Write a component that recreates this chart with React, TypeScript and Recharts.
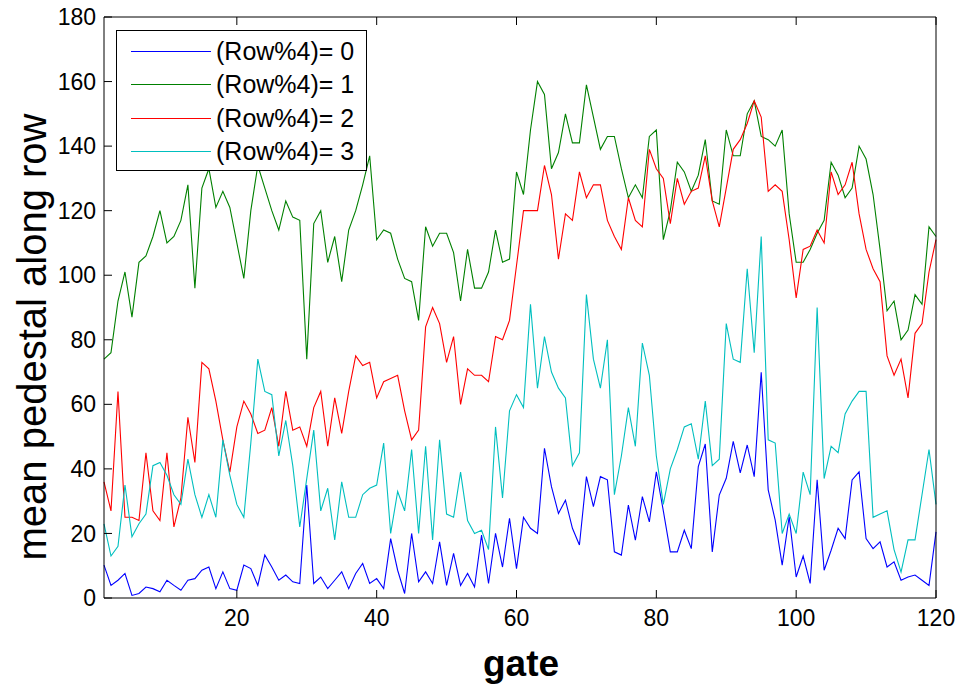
import { LineChart, Line, XAxis, YAxis, Legend } from "recharts";

// gate index 1..120
const gates = Array.from({ length: 120 }, (_, i) => i + 1);

const row0 = [
  10.2, 3.9, 5.5, 7.6, 0.8, 1.4, 3.4, 2.9, 1.9, 5.5, 3.9, 2.4, 5.5, 6, 8.6, 9.6, 2.9, 8.1, 2.9, 2.4,
  10.2, 9.1, 3.9, 13.3, 9.6, 5.5, 7.1, 5, 4.5, 35, 4.5, 6.5, 2.9, 5.5, 8.1, 2.9, 7.6, 10.7, 4.5, 6,
  2.9, 18.4, 8.6, 1.4, 20, 5, 8.1, 4.5, 17.4, 3.9, 13.8, 3.9, 7.6, 3.4, 19.5, 4.5, 20, 9.6, 24.7, 9.1,
  25, 21.6, 20, 46.4, 34.5, 26.2, 30.3, 21.6, 16.4, 37.6, 28.3, 37.6, 36.6, 14.3, 13.3, 28.8, 17.9, 31.4, 23.6, 39.1,
  27, 14.3, 14.3, 21, 15.3, 40.7, 47.7, 14.3, 31.9, 37.1, 48.5, 38.8, 47.4, 37.6, 69.9, 33.5, 24.1, 10.2, 25.2, 6.5,
  13, 4.5, 36.6, 8.6, 14.8, 21.6, 18.4, 36.6, 39.1, 18.4, 15.3, 17.4, 9.6, 11.2, 5.5, 6.5, 7.1, 5.5, 3.9, 20.5,
];

const row1 = [
  74, 76, 92, 101, 87, 104, 106, 112, 120, 110, 112, 117, 128, 96, 127, 133, 121, 126, 121, 110,
  99, 120, 134, 127, 120, 114, 123, 118, 117, 74, 116, 120, 104, 112, 98, 114, 120, 128, 137, 111,
  114, 113, 105, 99, 98, 86, 115, 109, 113, 113, 107, 92, 108, 96, 96, 101, 114, 104, 105, 132,
  125, 145, 160, 156, 133, 138, 150, 141, 141, 159, 149, 139, 143, 143, 133, 124, 128, 124, 143, 145,
  111, 120, 135, 132, 126, 131, 142, 123, 122, 145, 137, 137, 150, 154, 143, 142, 140, 145, 119, 104,
  104, 108, 113, 117, 135, 131, 124, 127, 140, 136, 125, 108, 89, 92, 80, 83, 94, 91, 115, 112,
];

const row2 = [
  36, 27, 64, 25, 25, 24, 45, 27, 24, 45, 22, 31, 56, 42, 73, 71, 61, 49, 39, 53,
  61, 57, 51, 52, 59, 47, 64, 52, 53, 47, 59, 64, 47, 62, 51, 64, 75, 72, 73, 62,
  67, 68, 69, 58, 49, 52, 84, 90, 85, 73, 81, 60, 71, 69, 69, 67, 81, 80, 86, 103,
  120, 120, 120, 134, 125, 105, 119, 117, 132, 124, 128, 128, 117, 112, 108, 124, 117, 115, 139, 133,
  130, 116, 130, 122, 126, 127, 137, 123, 115, 127, 139, 142, 147, 154, 149, 126, 128, 126, 111, 93,
  108, 109, 114, 110, 132, 125, 128, 135, 119, 108, 102, 98, 75, 69, 74, 62, 82, 85, 101, 111,
];

const row3 = [
  23, 13, 16, 35, 19, 23, 26, 41, 42, 38, 32, 29, 43, 32, 25, 32, 25, 49, 38, 29,
  25, 48, 74, 64, 63, 44, 55, 41, 22, 37, 52, 27, 34, 18, 36, 25, 25, 32, 34, 35,
  48, 20, 33, 27, 46, 20, 47, 18, 49, 26, 25, 39, 24, 20, 21, 15, 53, 31, 58, 63,
  59, 91, 65, 81, 70, 65, 62, 41, 45, 94, 74, 65, 80, 32, 44, 59, 47, 79, 69, 44,
  29, 40, 46, 53, 54, 43, 61, 41, 43, 85, 74, 73, 102, 76, 112, 49, 48, 20, 26, 20,
  39, 32, 90, 37, 47, 45, 57, 61, 64, 64, 25, 26, 27, 15, 8, 18, 18, 32, 46, 29,
];

const xTicks = [20, 40, 60, 80, 100, 120];
const yTicks = [0, 20, 40, 60, 80, 100, 120, 140, 160, 180];

const series = [
  { key: "r0", name: "(Row%4)= 0", color: "#0000ff" },
  { key: "r1", name: "(Row%4)= 1", color: "#008000" },
  { key: "r2", name: "(Row%4)= 2", color: "#ff0000" },
  { key: "r3", name: "(Row%4)= 3", color: "#00bfbf" },
];

const data = gates.map((g, i) => ({
  gate: g,
  r0: row0[i],
  r1: row1[i],
  r2: row2[i],
  r3: row3[i],
}));

const font = "'Liberation Sans', Arial, sans-serif";
const tickStyle = { fill: "#000", fontSize: 23, fontFamily: font };

function LegendBox() {
  return (
    <div
      style={{
        border: "1px solid #000",
        background: "#fff",
        width: 251,
        height: 141,
        boxSizing: "border-box",
        padding: "4px 0 0 14px",
        fontFamily: font,
        fontSize: 25,
        lineHeight: 1,
        textAlign: "left",
      }}
    >
      {series.map((s) => (
        <div key={s.key} style={{ display: "flex", alignItems: "center", height: 33.3 }}>
          <span style={{ width: 80, height: 0, borderTop: `1.5px solid ${s.color}`, marginRight: 5 }} />
          <span>{s.name}</span>
        </div>
      ))}
    </div>
  );
}

export default function App() {
  return (
    <div style={{ position: "absolute", left: 0, top: 0, background: "#fff" }}>
      <LineChart width={961} height={686} data={data} margin={{ top: 16, right: 24, bottom: 0, left: 0 }}>
        <XAxis
          xAxisId="b"
          dataKey="gate"
          type="number"
          domain={[1, 120]}
          ticks={xTicks}
          height={88}
          tickSize={-8}
          tickMargin={20}
          axisLine={{ stroke: "#000" }}
          tickLine={{ stroke: "#000" }}
          tick={tickStyle}
          label={{
            content: () => (
              <text x={521} y={676} textAnchor="middle" fontFamily={font} fontSize={37} fontWeight="bold" fill="#000">
                gate
              </text>
            ),
          }}
        />
        <XAxis
          xAxisId="t"
          orientation="top"
          dataKey="gate"
          type="number"
          domain={[1, 120]}
          ticks={xTicks}
          height={1}
          tickSize={-8}
          tickFormatter={() => ""}
          axisLine={{ stroke: "#000" }}
          tickLine={{ stroke: "#000" }}
        />
        <YAxis
          yAxisId="l"
          domain={[0, 180]}
          ticks={yTicks}
          width={104}
          tickSize={-8}
          tickMargin={16}
          axisLine={{ stroke: "#000" }}
          tickLine={{ stroke: "#000" }}
          tick={tickStyle}
          label={{
            content: () => (
              <text
                x={32}
                y={337}
                transform="rotate(-90 32 337)"
                textAnchor="middle"
                dominantBaseline="central"
                fontFamily={font}
                fontSize={40}
                fill="#000"
              >
                mean pedestal along row
              </text>
            ),
          }}
        />
        <YAxis
          yAxisId="r"
          orientation="right"
          domain={[0, 180]}
          ticks={yTicks}
          width={1}
          tickSize={-8}
          tickFormatter={() => ""}
          axisLine={{ stroke: "#000" }}
          tickLine={{ stroke: "#000" }}
        />
        <Legend
          verticalAlign="middle"
          align="center"
          layout="horizontal"
          wrapperStyle={{ left: 116, top: 30, width: 251 }}
          content={() => <LegendBox />}
        />
        {series.map((s) => (
          <Line
            key={s.key}
            xAxisId="b"
            yAxisId="l"
            type="linear"
            dataKey={s.key}
            name={s.name}
            stroke={s.color}
            strokeWidth={1.1}
            dot={false}
            activeDot={false}
            isAnimationActive={false}
          />
        ))}
      </LineChart>
    </div>
  );
}
